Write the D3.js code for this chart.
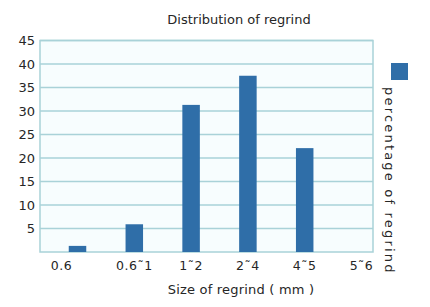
<!DOCTYPE html>
<html>
<head>
<meta charset="utf-8">
<script src="https://cdn.jsdelivr.net/npm/d3@7"></script>
<style>
  body { margin: 0; background: #fff; }
  text { font-family: "DejaVu Sans", sans-serif; fill: #262626; }
</style>
</head>
<body>
<div id="chart"></div>
<script>
// chart data
const categories = ["0.6", "0.6\u02DC1", "1\u02DC2", "2\u02DC4", "4\u02DC5", "5\u02DC6"];
const percentages = [1.3, 5.9, 31.3, 37.5, 22.1, 0];
const yTicks = [5, 10, 15, 20, 25, 30, 35, 40, 45];
const chartTitle = "Distribution of regrind";
const xTitle = "Size of regrind ( mm )";
const seriesName = "percentage of regrind";

const w = 430, h = 307;
const plot = { left: 40, right: 373, top: 40.5, bottom: 252 };

const svg = d3.select("#chart").append("svg")
    .attr("width", w)
    .attr("height", h);

const x = d3.scalePoint()
    .domain(categories)
    .range([77.5, 361.5]);

const y = d3.scaleLinear()
    .domain([0, 45])
    .range([plot.bottom, plot.top]);

const barW = 17.5;

// plot background + frame
svg.append("rect")
    .attr("x", plot.left)
    .attr("y", plot.top)
    .attr("width", plot.right - plot.left)
    .attr("height", plot.bottom - plot.top)
    .attr("fill", "#f7fdfe")
    .attr("stroke", "#a9d2d8")
    .attr("stroke-width", 1.5);

// horizontal grid lines
svg.selectAll("line.grid")
    .data(yTicks)
    .enter().append("line")
    .attr("class", "grid")
    .attr("x1", plot.left)
    .attr("x2", plot.right)
    .attr("y1", d => y(d))
    .attr("y2", d => y(d))
    .attr("stroke", "#a9d2d8")
    .attr("stroke-width", 1.5);

// y labels
svg.selectAll("text.ytick")
    .data(yTicks)
    .enter().append("text")
    .attr("class", "ytick")
    .attr("x", 35)
    .attr("y", d => y(d))
    .attr("dy", "0.36em")
    .attr("text-anchor", "end")
    .style("font-size", "13px")
    .text(d => d);

// bars
svg.selectAll("rect.bar")
    .data(percentages)
    .enter().append("rect")
    .attr("class", "bar")
    .attr("x", (d, i) => x(categories[i]) - barW / 2)
    .attr("y", d => y(d))
    .attr("width", barW)
    .attr("height", d => y(0) - y(d))
    .attr("fill", "#2f6ea8");

// x labels
svg.selectAll("text.xtick")
    .data(categories)
    .enter().append("text")
    .attr("class", "xtick")
    .attr("x", (d, i) => x(d) - (i === 0 ? 16 : 0))
    .attr("y", 270)
    .attr("text-anchor", "middle")
    .style("font-size", "12.5px")
    .style("letter-spacing", "0.5px")
    .text(d => d);

// titles
svg.append("text")
    .attr("x", 239)
    .attr("y", 24)
    .attr("text-anchor", "middle")
    .style("font-size", "13px")
    .text(chartTitle);

svg.append("text")
    .attr("x", 241)
    .attr("y", 294)
    .attr("text-anchor", "middle")
    .style("font-size", "13px")
    .style("letter-spacing", "0.2px")
    .text(xTitle);

// legend
svg.append("rect")
    .attr("x", 391)
    .attr("y", 63)
    .attr("width", 17)
    .attr("height", 17)
    .attr("fill", "#2f6ea8");

svg.append("text")
    .attr("transform", "translate(385,87) rotate(90)")
    .attr("text-anchor", "start")
    .style("font-size", "13px")
    .style("letter-spacing", "2.2px")
    .text(seriesName);
</script>
</body>
</html>
